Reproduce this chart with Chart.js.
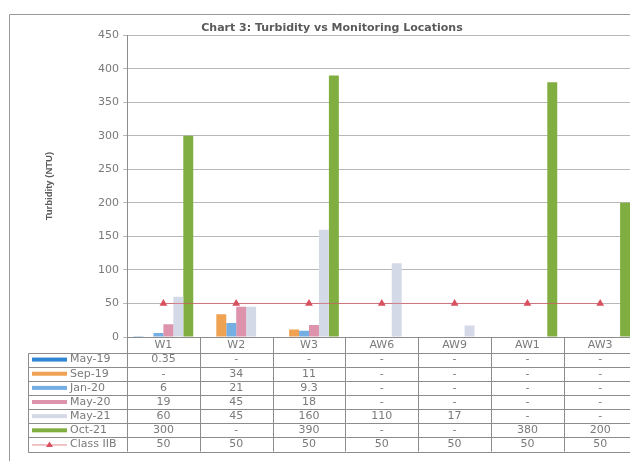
<!DOCTYPE html>
<html><head><meta charset="utf-8">
<script src="https://cdn.jsdelivr.net/npm/chart.js@4.4.0/dist/chart.umd.min.js"></script>
<style>
html,body{margin:0;padding:0;background:#fff;overflow:hidden;width:630px;height:461px}
#wrap{position:absolute;left:0;top:0;width:664px;height:461px}
</style>
</head><body><div id="wrap"><canvas id="c" width="664" height="461"></canvas></div>
<script>
const categories = ['W1', 'W2', 'W3', 'AW6', 'AW9', 'AW1', 'AW3'];
const may19 = [0.35, null, null, null, null, null, null];
const sep19 = [null, 34, 11, null, null, null, null];
const jan20 = [6, 21, 9.3, null, null, null, null];
const may20 = [19, 45, 18, null, null, null, null];
const may21 = [60, 45, 160, 110, 17, null, null];
const oct21 = [300, null, 390, null, null, 380, 200];
const classIIB = [50, 50, 50, 50, 50, 50, 50];
const yMin = 0, yMax = 450, yStep = 50;

const FONT = "'DejaVu Sans', sans-serif";
const TXT = '#7a7a7a';

const tablePlugin = {
  id: 'dataTable',
  beforeDraw(chart) {
    const ctx = chart.ctx;
    ctx.save();
    ctx.fillStyle = '#ffffff';
    ctx.fillRect(0, 0, chart.width, chart.height);
    ctx.strokeStyle = '#9a9a9a';
    ctx.lineWidth = 1;
    ctx.beginPath();
    ctx.moveTo(9.5, 461); ctx.lineTo(9.5, 14.5); ctx.lineTo(chart.width, 14.5);
    ctx.stroke();
    ctx.restore();
  },
  afterDraw(chart) {
    const ctx = chart.ctx;
    const area = chart.chartArea;
    const n = categories.length;
    const colW = (area.right - area.left) / n;
    const top = area.bottom;
    const headerH = 15.5;
    const rowH = 14.15;
    const ds = chart.data.datasets;
    const tableLeft = 28.5;
    const bottom = top + headerH + ds.length * rowH;
    ctx.save();
    ctx.strokeStyle = '#8c8c8c';
    ctx.lineWidth = 1;
    ctx.beginPath();
    for (let i = 0; i <= ds.length; i++) {
      const y = Math.round(top + headerH + i * rowH) + 0.5;
      ctx.moveTo(tableLeft, y); ctx.lineTo(chart.width, y);
    }
    for (let j = 0; j <= n; j++) {
      const x = Math.round(area.left + j * colW) + 0.5;
      ctx.moveTo(x, top); ctx.lineTo(x, bottom);
    }
    ctx.moveTo(tableLeft, Math.round(top + headerH) + 0.5); ctx.lineTo(tableLeft, Math.round(bottom) + 0.5);
    ctx.stroke();

    ctx.font = '11px ' + FONT;
    ctx.textBaseline = 'middle';
    ds.forEach((d, i) => {
      const cy = top + headerH + i * rowH + rowH / 2;
      if (d.type === 'line') {
        ctx.strokeStyle = d.borderColor;
        ctx.lineWidth = 1;
        ctx.beginPath(); ctx.moveTo(32, cy + 0.5); ctx.lineTo(67, cy + 0.5); ctx.stroke();
        ctx.fillStyle = d.pointBackgroundColor;
        ctx.beginPath(); ctx.moveTo(49.5, cy - 3); ctx.lineTo(53, cy + 2.5); ctx.lineTo(46, cy + 2.5); ctx.closePath(); ctx.fill();
      } else {
        ctx.fillStyle = d.backgroundColor;
        ctx.fillRect(32, cy - 2, 35, 4);
      }
      ctx.fillStyle = TXT;
      ctx.textAlign = 'left';
      ctx.fillText(d.label, 70, cy);
      ctx.textAlign = 'center';
      d.data.forEach((v, j) => {
        const cx = area.left + (j + 0.5) * colW;
        ctx.fillText(v === null ? '-' : String(v), cx, cy);
      });
    });
    ctx.restore();
  }
};

const barBase = { barPercentage: 1.0, categoryPercentage: 0.82, borderWidth: 0 };
new Chart(document.getElementById('c'), {
  data: {
    labels: categories,
    datasets: [
      Object.assign({ type: 'bar', label: 'May-19', data: may19, backgroundColor: '#2f86d2' }, barBase),
      Object.assign({ type: 'bar', label: 'Sep-19', data: sep19, backgroundColor: '#f0a253' }, barBase),
      Object.assign({ type: 'bar', label: 'Jan-20', data: jan20, backgroundColor: '#74aee3' }, barBase),
      Object.assign({ type: 'bar', label: 'May-20', data: may20, backgroundColor: '#dc93ab' }, barBase),
      Object.assign({ type: 'bar', label: 'May-21', data: may21, backgroundColor: '#d4d9e7' }, barBase),
      Object.assign({ type: 'bar', label: 'Oct-21', data: oct21, backgroundColor: '#80ae40' }, barBase),
      { type: 'line', label: 'Class IIB', data: classIIB, borderColor: 'rgba(214,86,98,0.7)', borderWidth: 1,
        pointStyle: 'triangle', pointRadius: 4.5, pointBackgroundColor: '#d9505e', pointBorderColor: '#d9505e',
        pointBorderWidth: 0, order: -1 }
    ]
  },
  options: {
    responsive: false,
    animation: false,
    devicePixelRatio: 1,
    layout: { padding: 0 },
    plugins: {
      legend: { display: false },
      tooltip: { enabled: false },
      title: {
        display: true,
        text: 'Chart 3: Turbidity vs Monitoring Locations',
        color: '#5a5a5a',
        font: { family: FONT, size: 11, weight: 'bold' },
        padding: { top: 22, bottom: 0 }
      }
    },
    scales: {
      x: {
        grid: { display: false, drawTicks: false },
        border: { display: true, color: '#8c8c8c' },
        ticks: { color: TXT, font: { family: FONT, size: 11 }, padding: 2, maxRotation: 0 },
        afterFit(s) { s.height = 124; }
      },
      y: {
        min: yMin, max: yMax,
        grid: { color: '#b8b8b8', tickLength: 4 },
        border: { display: true, color: '#8c8c8c' },
        ticks: { stepSize: yStep, color: TXT, font: { family: FONT, size: 11 }, padding: 4 },
        title: {
          display: true, text: 'Turbidity (NTU)', color: '#5a5a5a',
          font: { family: "'Liberation Sans', Arial, sans-serif", size: 9.5, weight: 'bold' },
          padding: { top: 44, bottom: 0 }
        },
        afterFit(s) { s.width = 127; }
      },
      yR: {
        position: 'right',
        display: true,
        grid: { display: false, drawTicks: false },
        border: { display: false },
        ticks: { display: false },
        afterFit(s) { s.width = 27.4; }
      }
    }
  },
  plugins: [tablePlugin]
});
</script>
</body></html>
